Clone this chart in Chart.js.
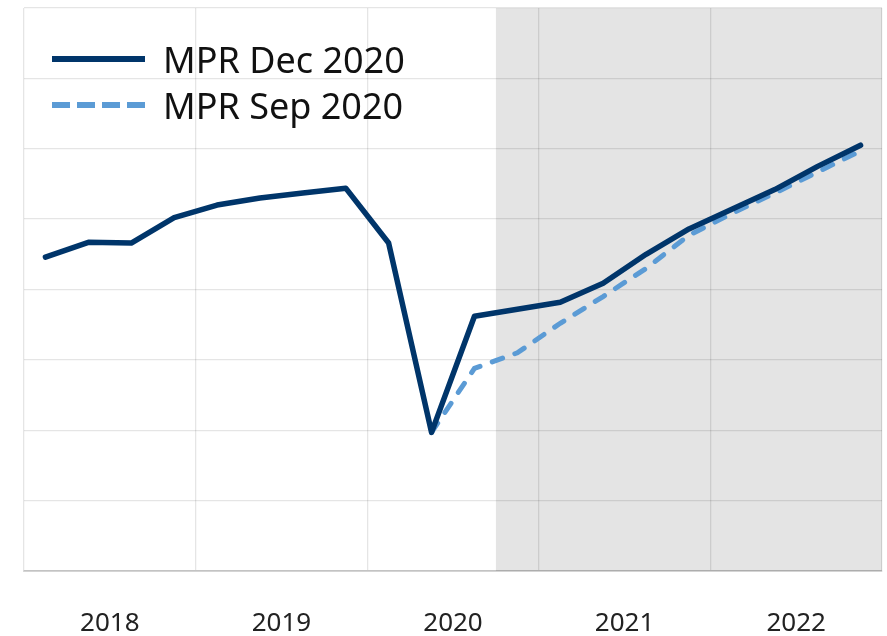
<!DOCTYPE html>
<html>
<head>
<meta charset="utf-8">
<script src="https://cdn.jsdelivr.net/npm/chart.js@4.4.0/dist/chart.umd.min.js"></script>
<style>
  html, body { margin: 0; padding: 0; background: #fff; }
  #wrap { position: relative; width: 887px; height: 636px; }
  #leyenda { position: absolute; left: 52px; top: 36px; font-family: "Noto Sans", sans-serif; font-size: 36px; color: #111; }
  .fila { display: flex; align-items: center; height: 46px; }
  .muestra { width: 93px; margin-right: 18px; }
  .solida { border-top: 6px solid #00356a; }
  .rayada { height: 6px; background: repeating-linear-gradient(90deg, #5b9bd5 0 18px, transparent 18px 25px); }
</style>
</head>
<body>
<div id="wrap">
  <canvas id="grafica" width="887" height="636"></canvas>
  <div id="leyenda">
    <div class="fila"><div class="muestra solida"></div><span>MPR Dec 2020</span></div>
    <div class="fila"><div class="muestra rayada"></div><span>MPR Sep 2020</span></div>
  </div>
</div>
<script>
var trimestres = ['2018Q1', '2018Q2', '2018Q3', '2018Q4', '2019Q1', '2019Q2', '2019Q3', '2019Q4',
  '2020Q1', '2020Q2', '2020Q3', '2020Q4', '2021Q1', '2021Q2', '2021Q3', '2021Q4',
  '2022Q1', '2022Q2', '2022Q3', '2022Q4'];
var anios = ['2018', '2019', '2020', '2021', '2022'];
var mprDic = [4.46, 4.67, 4.66, 5.02, 5.20, 5.30, 5.37, 5.44, 4.66, 1.97, 3.62, 3.72,
  3.82, 4.09, 4.50, 4.86, 5.14, 5.42, 5.75, 6.05];
var mprSep = [null, null, null, null, null, null, null, null, null, 1.97, 2.88, 3.10,
  3.52, 3.90, 4.30, 4.77, 5.08, 5.37, 5.67, 5.97];
var inicioProyeccion = '2020Q4';

function puntos(serie) {
  return trimestres.map(function(q, i) {
    return { x: i + 0.5, y: serie[i] };
  });
}

// sombreado de la zona de proyeccion
var sombra = {
  id: 'sombra',
  beforeDraw: function(chart) {
    var ctx = chart.ctx;
    var area = chart.chartArea;
    var x0 = chart.scales.x.getPixelForValue(trimestres.indexOf(inicioProyeccion));
    ctx.save();
    ctx.fillStyle = '#e4e4e4';
    ctx.fillRect(x0, area.top, area.right - x0, area.bottom - area.top);
    ctx.restore();
  }
};

new Chart(document.getElementById('grafica').getContext('2d'), {
  type: 'line',
  data: {
    datasets: [{
      label: 'MPR Dec 2020',
      data: puntos(mprDic),
      borderColor: '#00356a',
      borderWidth: 5.5,
      borderJoinStyle: 'round',
      borderCapStyle: 'round',
      pointRadius: 0,
      tension: 0
    }, {
      label: 'MPR Sep 2020',
      data: puntos(mprSep),
      borderColor: '#5b9bd5',
      borderWidth: 5,
      borderDash: [11, 13],
      borderCapStyle: 'round',
      pointRadius: 0,
      tension: 0
    }]
  },
  options: {
    responsive: false,
    animation: false,
    layout: { padding: { left: 24, right: 5, top: 8, bottom: 0 } },
    plugins: {
      legend: { display: false },
      tooltip: { enabled: false }
    },
    scales: {
      x: {
        type: 'linear',
        min: 0,
        max: trimestres.length,
        afterBuildTicks: function(scale) {
          var t = [];
          for (var v = 0; v <= trimestres.length; v += 2) t.push({ value: v });
          scale.ticks = t;
        },
        afterFit: function(scale) {
          scale.height = 65;
          scale.paddingLeft = 0;
          scale.paddingRight = 0;
          scale.paddingTop = 0;
          scale.paddingBottom = 0;
        },
        ticks: {
          autoSkip: false,
          maxRotation: 0,
          padding: 40,
          color: '#222',
          font: { family: 'Noto Sans', size: 26, lineHeight: 1 },
          callback: function(v) {
            return v % 4 === 2 ? anios[(v - 2) / 4] : '';
          }
        },
        grid: {
          drawTicks: false,
          lineWidth: 1.3,
          color: function(c) {
            return c.tick && c.tick.value % 4 === 0 ? 'rgba(0,0,0,0.1)' : 'rgba(0,0,0,0)';
          }
        },
        border: { color: 'rgba(0,0,0,0.15)', width: 2 }
      },
      y: {
        min: 0,
        max: 8,
        afterFit: function(scale) {
          scale.width = 0;
          scale.paddingTop = 0;
          scale.paddingBottom = 0;
        },
        ticks: { display: false, stepSize: 1 },
        grid: { drawTicks: false, color: 'rgba(0,0,0,0.1)', lineWidth: 1.3 },
        border: { display: false }
      }
    }
  },
  plugins: [sombra]
});
</script>
</body>
</html>
